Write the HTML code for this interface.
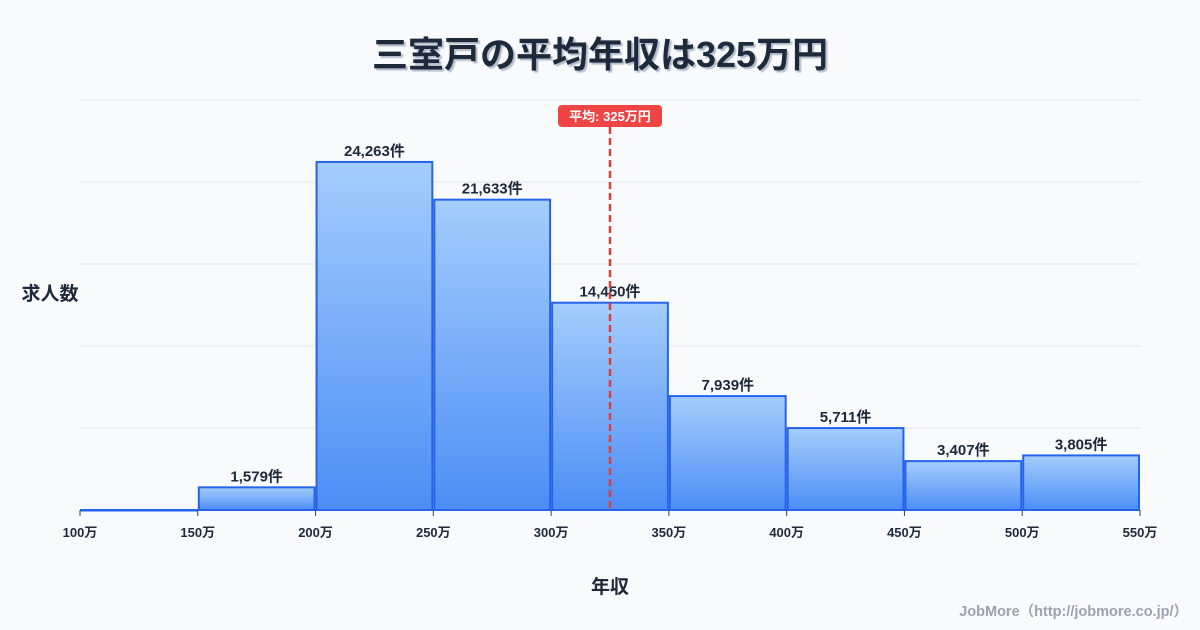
<!DOCTYPE html>
<html><head><meta charset="utf-8"><style>
body{margin:0;background:#f8fafc;font-family:"Liberation Sans","Noto Sans CJK JP",sans-serif;}
#wrap{position:relative;width:1200px;height:630px;overflow:hidden;background:#f8fafc}
</style></head><body>
<div id="wrap">
<svg id="chart" width="1200" height="630">
<defs><linearGradient id="g" x1="0" y1="0" x2="0" y2="1"><stop offset="0" stop-color="#a5cdfc"/><stop offset="1" stop-color="#4d8ef5"/></linearGradient>
<filter id="sh"><feDropShadow dx="2" dy="2" stdDeviation="0.5" flood-color="#94a3b8" flood-opacity="0.7"/></filter></defs>
<text x="600" y="67" text-anchor="middle" font-size="36" font-weight="bold" fill="#1e293b" filter="url(#sh)" font-family="Liberation Sans, Noto Sans CJK JP, sans-serif">三室戸の平均年収は325万円</text>
<g id="grid"></g><g id="bars"></g><g id="xt"></g>
<text x="50" y="300" text-anchor="middle" font-size="19" font-weight="bold" fill="#1e293b">求人数</text>
<text x="610" y="593" text-anchor="middle" font-size="19" font-weight="bold" fill="#1e293b">年収</text>
<text x="1188" y="616" text-anchor="end" font-size="14.5" font-weight="bold" fill="#9ca3af">JobMore（http://jobmore.co.jp/）</text>
<g id="mean"></g>
</svg></div>
<script>
const binEdges=[100,150,200,250,300,350,400,450,500,550];
const counts=[0,1579,24263,21633,14450,7939,5711,3407,3805];
const meanValue=325;
const X0=80,X1=1140,Y0=510,YT=100;
const yMax=Math.max(...counts)*1.178;
const xs=v=>X0+(v-100)/(550-100)*(X1-X0);
const ys=v=>Y0-v/yMax*(Y0-YT);
const NS="http://www.w3.org/2000/svg";
function mk(t,a,p){const e=document.createElementNS(NS,t);for(const k in a)e.setAttribute(k,a[k]);p.appendChild(e);return e;}
const grid=document.getElementById('grid');
for(let i=0;i<=5;i++){const y=Y0-i*(Y0-YT)/5;const l=mk('line',{x1:X0,x2:X1,y1:y,y2:y,stroke:'#e5e7eb','stroke-width':1},grid);

}
const bars=document.getElementById('bars');
counts.forEach((c,i)=>{const x0=xs(binEdges[i])+1,x1=xs(binEdges[i+1])-1,y=ys(c);
const r=mk('rect',{x:x0,y:y,width:x1-x0,height:Math.max(Y0-y,0.5),fill:'url(#g)',stroke:'#2563eb','stroke-width':2},bars);


if(c>0){const t=mk('text',{x:(x0+x1)/2,y:y-6,'text-anchor':'middle','font-size':15,'font-weight':'bold',fill:'#1e293b'},bars);t.textContent=c.toLocaleString('en-US')+'件';

}});
const xt=document.getElementById('xt');
binEdges.forEach(v=>{const x=xs(v);mk('line',{x1:x,x2:x,y1:Y0,y2:Y0+6,stroke:'#374151'},xt);
const t=mk('text',{x:x,y:537,'text-anchor':'middle','font-size':13,'font-weight':'bold',fill:'#1e293b'},xt);t.textContent=v+'万';

});
const mg=document.getElementById('mean');const mx=xs(meanValue);
const ml=mk('line',{x1:mx,x2:mx,y1:127,y2:Y0,stroke:'#dc3d3d','stroke-width':2.5,'stroke-dasharray':'7,4'},mg);


const mr=mk('rect',{x:mx-52,y:105,width:104,height:22,rx:4,fill:'#ef4444'},mg);


const mt=mk('text',{x:mx,y:121,'text-anchor':'middle','font-size':13,'font-weight':'bold',fill:'#fff'},mg);mt.textContent='平均: '+meanValue+'万円';


</script>
</body></html>
